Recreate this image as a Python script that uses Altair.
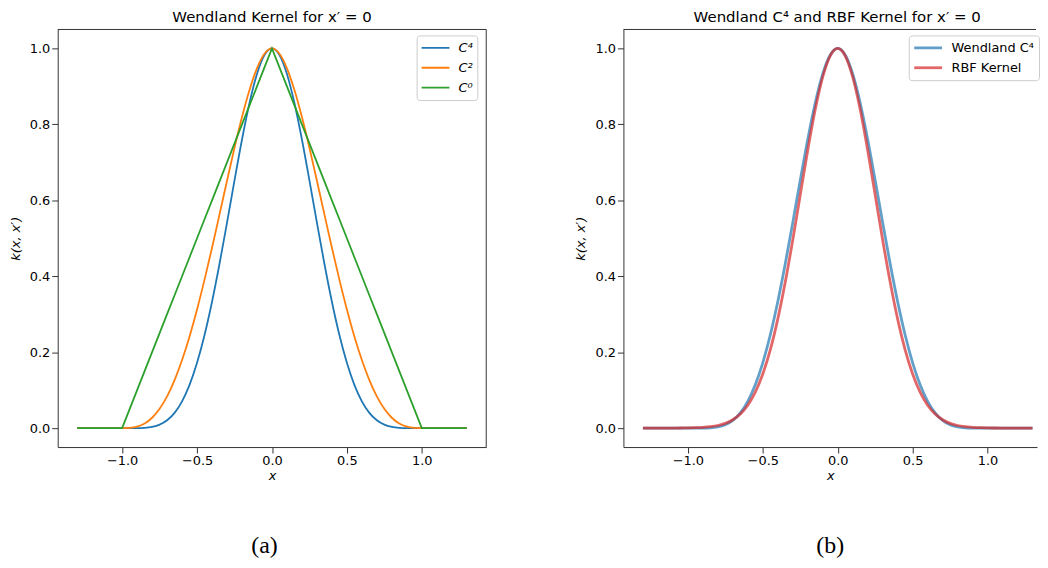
import altair as alt
import pandas as pd

# sample positions (x) shared by all curves
X = [-1.30, -1.25, -1.20, -1.15, -1.10, -1.05, -1.00, -0.95, -0.90, -0.85,
     -0.80, -0.75, -0.70, -0.65, -0.60, -0.55, -0.50, -0.45, -0.40, -0.35,
     -0.30, -0.25, -0.20, -0.15, -0.10, -0.05, 0.00, 0.05, 0.10, 0.15,
     0.20, 0.25, 0.30, 0.35, 0.40, 0.45, 0.50, 0.55, 0.60, 0.65,
     0.70, 0.75, 0.80, 0.85, 0.90, 0.95, 1.00, 1.05, 1.10, 1.15,
     1.20, 1.25, 1.30]

WENDLAND_C4 = [0, 0, 0, 0, 0, 0, 0, 0,
               0.0001, 0.0008, 0.0032, 0.0090, 0.0205, 0.0401, 0.0705, 0.1139, 0.1719,
               0.2451, 0.3328, 0.4328, 0.5412, 0.6526, 0.7602, 0.8564, 0.9330, 0.9827,
               1.0,
               0.9827, 0.9330, 0.8564, 0.7602, 0.6526, 0.5412, 0.4328, 0.3328, 0.2451,
               0.1719, 0.1139, 0.0705, 0.0401, 0.0205, 0.0090, 0.0032, 0.0008, 0.0001,
               0, 0, 0, 0, 0, 0, 0, 0]

WENDLAND_C2 = [0, 0, 0, 0, 0, 0, 0,
               0.0005, 0.0037, 0.0120, 0.0272, 0.0508, 0.0837, 0.1265, 0.1792, 0.2415,
               0.3125, 0.3910, 0.4752, 0.5630, 0.6517, 0.7383, 0.8192, 0.8905, 0.9477,
               0.9860,
               1.0,
               0.9860, 0.9477, 0.8905, 0.8192, 0.7383, 0.6517, 0.5630, 0.4752, 0.3910,
               0.3125, 0.2415, 0.1792, 0.1265, 0.0837, 0.0508, 0.0272, 0.0120, 0.0037,
               0.0005,
               0, 0, 0, 0, 0, 0, 0]

WENDLAND_C0 = [0, 0, 0, 0, 0, 0, 0,
               0.05, 0.10, 0.15, 0.20, 0.25, 0.30, 0.35, 0.40, 0.45, 0.50, 0.55, 0.60,
               0.65, 0.70, 0.75, 0.80, 0.85, 0.90, 0.95,
               1.0,
               0.95, 0.90, 0.85, 0.80, 0.75, 0.70, 0.65, 0.60, 0.55, 0.50, 0.45, 0.40,
               0.35, 0.30, 0.25, 0.20, 0.15, 0.10, 0.05,
               0, 0, 0, 0, 0, 0, 0]

RBF = [0, 0, 0, 0,
       0.0001, 0.0002, 0.0004, 0.0009, 0.0018, 0.0036, 0.0068, 0.0124, 0.0219,
       0.0371, 0.0603, 0.0945, 0.1423, 0.2061, 0.2871, 0.3846, 0.4956, 0.6142,
       0.7320, 0.8390, 0.9250, 0.9807,
       1.0,
       0.9807, 0.9250, 0.8390, 0.7320, 0.6142, 0.4956, 0.3846, 0.2871, 0.2061,
       0.1423, 0.0945, 0.0603, 0.0371, 0.0219, 0.0124, 0.0068, 0.0036, 0.0018,
       0.0009, 0.0004, 0.0002, 0.0001,
       0, 0, 0, 0]

LEFT_NAMES = ["C\u2074", "C\u00b2", "C\u2070"]
LEFT_COLORS = ["#1f77b4", "#ff7f0e", "#2ca02c"]
RIGHT_NAMES = ["Wendland C\u2074", "RBF Kernel"]
RIGHT_COLORS = ["#1f77b4", "#d62728"]

X_TICKS = [-1.0, -0.5, 0.0, 0.5, 1.0]
Y_TICKS = [0.0, 0.2, 0.4, 0.6, 0.8, 1.0]

LEFT_TITLE = "Wendland Kernel for x\u2032 = 0"
RIGHT_TITLE = "Wendland C\u2074 and RBF Kernel for x\u2032 = 0"
CAPTIONS = ["(a)", "(b)"]

FONT = "DejaVu Sans"
SPINE = "#333333"
H = 420
W_LEFT = 431
W_RIGHT = 416


def series_df(name, values):
    return pd.DataFrame({"x": X, "y": values, "series": [name] * len(X)})


def x_enc(domain):
    return alt.X("x:Q", scale=alt.Scale(domain=domain, nice=False, zero=False),
                 axis=alt.Axis(values=X_TICKS, format=".1f", title="x",
                               tickSize=6, labelPadding=2, titlePadding=2,
                               domainColor=SPINE, tickColor=SPINE, grid=False,
                               labelFont=FONT, labelFontSize=13, labelColor="black",
                               titleFont=FONT, titleFontSize=13, titleFontStyle="italic",
                               titleFontWeight="normal", titleColor="black"))


def y_enc():
    return alt.Y("y:Q", scale=alt.Scale(domain=[-0.05, 1.05], nice=False, zero=False),
                 axis=alt.Axis(values=Y_TICKS, format=".1f", title="k(x, x\u2032)",
                               tickSize=6, labelPadding=2, titlePadding=7,
                               domainColor=SPINE, tickColor=SPINE, grid=False,
                               labelFont=FONT, labelFontSize=13, labelColor="black",
                               titleFont=FONT, titleFontSize=13, titleFontStyle="italic",
                               titleFontWeight="normal", titleColor="black"))


def legend(lx, ly, stroke_w, opacity, style):
    return alt.Legend(orient="none", legendX=lx, legendY=ly, title=None,
                      symbolType="stroke", symbolSize=784, symbolStrokeWidth=stroke_w,
                      symbolOpacity=opacity, clipHeight=17,
                      labelFont=FONT, labelFontSize=13, labelColor="black",
                      labelFontStyle=style,
                      fillColor="white", strokeColor="#cccccc", cornerRadius=3,
                      padding=4, rowPadding=3, labelOffset=8)


def spines(width, right_side):
    one = pd.DataFrame({"a": [0]})
    top = alt.Chart(one).mark_rule(color=SPINE, strokeWidth=1).encode(
        x=alt.value(0), x2=alt.value(width), y=alt.value(0))
    layers = [top]
    if right_side:
        layers.append(alt.Chart(one).mark_rule(color=SPINE, strokeWidth=1).encode(
            x=alt.value(width), y=alt.value(0), y2=alt.value(H)))
    return layers


def caption(text, cx):
    return alt.Chart(pd.DataFrame({"t": [text]})).mark_text(
        font="Liberation Serif", fontSize=24, align="center", baseline="alphabetic",
        color="black").encode(x=alt.value(cx), y=alt.value(527), text="t:N")


# ---- left panel ----
left_color = alt.Color("series:N", scale=alt.Scale(domain=LEFT_NAMES, range=LEFT_COLORS),
                       legend=legend(361, 6, 1.8, 1, "italic"))
left_layers = []
for name, vals, interp in [(LEFT_NAMES[0], WENDLAND_C4, "monotone"),
                           (LEFT_NAMES[1], WENDLAND_C2, "monotone"),
                           (LEFT_NAMES[2], WENDLAND_C0, "linear")]:
    left_layers.append(alt.Chart(series_df(name, vals)).mark_line(
        strokeWidth=1.8, interpolate=interp).encode(
        x=x_enc([-1.43, 1.43]), y=y_enc(), color=left_color))
left = alt.layer(*left_layers, *spines(W_LEFT, True), caption(CAPTIONS[0], 208)).properties(
    width=W_LEFT, height=H,
    title=alt.TitleParams(LEFT_TITLE, font=FONT, fontSize=15, fontWeight="normal",
                          color="black", offset=4, anchor="middle"))

# ---- right panel (cut at the page edge like the reference) ----
right_color = alt.Color("series:N", scale=alt.Scale(domain=RIGHT_NAMES, range=RIGHT_COLORS),
                        legend=legend(287, 6, 2.8, 0.7, "normal"))
right_layers = []
for name, vals in [(RIGHT_NAMES[0], WENDLAND_C4), (RIGHT_NAMES[1], RBF)]:
    right_layers.append(alt.Chart(series_df(name, vals)).mark_line(
        strokeWidth=2.8, opacity=0.7, interpolate="monotone").encode(
        x=x_enc([-1.43, 1.33]), y=y_enc(), color=right_color))
right = alt.layer(*right_layers, *spines(W_RIGHT - 1, False), caption(CAPTIONS[1], 208)).properties(
    width=W_RIGHT, height=H,
    title=alt.TitleParams(RIGHT_TITLE, font=FONT, fontSize=15, fontWeight="normal",
                          color="black", offset=4, anchor="middle", dx=7))

chart = alt.hconcat(left, right, spacing=87).resolve_scale(color="independent").configure(
    padding={"left": 0, "top": 0, "right": 0, "bottom": 0},
    background="white",
).configure_view(stroke="transparent")

chart.save("out.html", embed_options={"renderer": "svg", "actions": False})
